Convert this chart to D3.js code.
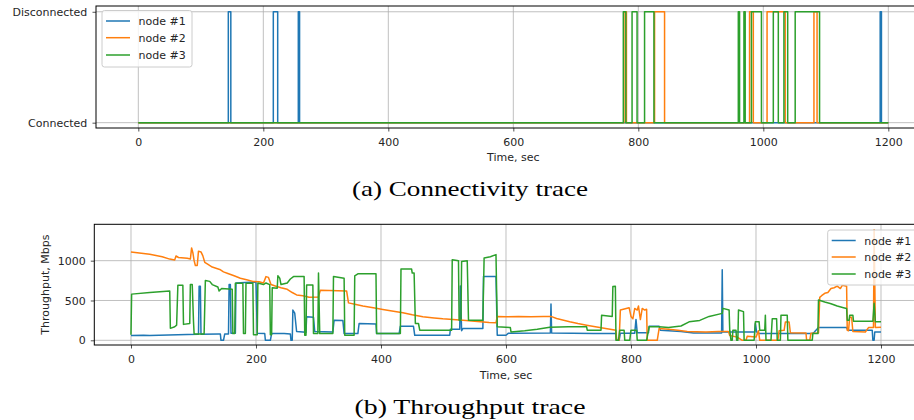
<!DOCTYPE html>
<html>
<head>
<meta charset="utf-8">
<script src="https://cdn.jsdelivr.net/npm/d3@7"></script>
<style>
  html, body { margin: 0; padding: 0; background: #fff; }
  svg { display: block; }
  .tick text { font-family: "DejaVu Sans", sans-serif; font-size: 11px; fill: #262626; }
  .tick line { stroke: #262626; stroke-width: 0.8; }
</style>
</head>
<body>
<svg id="chart" width="914" height="420"></svg>
<script>
// ---------------- data ----------------
const nodeNames = ["node #1", "node #2", "node #3"];
const nodeColors = ["#1f77b4", "#ff7f0e", "#2ca02c"];
const xTicks = [0, 200, 400, 600, 800, 1000, 1200];
const connTicks = [0, 1];
const connTickLabels = ["Connected", "Disconnected"];
const tputTicks = [0, 500, 1000];
const traceEnd = 1200;

// disconnection intervals [start, end] in seconds
const node1Down = [[144, 148], [216, 223], [256, 258], [1187, 1189]];
const node2Down = [[777, 781], [826, 842], [978, 984], [1006, 1035], [1081, 1086]];
const node3Down = [[776, 780], [790, 798], [810, 825], [960, 962], [969, 971], [981, 997],
                   [1016, 1024], [1033, 1039], [1051, 1090]];

// throughput samples [time sec, Mbps]
const node1Tput = [[0,60],[20,65],[30,60],[60,68],[90,72],[108,75],[109,680],[111,680],[112,75],[140,80],[143,78],[144,0],[148,0],[150,80],[156,80],[157,700],[159,700],[160,90],[167,90],[168,720],[190,730],[200,730],[202,90],[214,85],[215,0],[223,0],[225,85],[245,85],[255,80],[256,0],[258,0],[259,380],[262,340],[265,110],[280,100],[281,295],[292,290],[294,110],[323,105],[325,253],[339,250],[341,84],[363,84],[365,211],[392,205],[393,84],[429,84],[431,177],[452,175],[454,63],[510,63],[511,139],[526,139],[527,683],[529,120],[531,148],[563,148],[564,801],[584,801],[586,63],[600,63],[604,90],[671,92],[672,456],[673,92],[740,85],[776,85],[777,0],[781,0],[783,90],[806,90],[808,262],[810,95],[828,95],[829,177],[845,177],[847,127],[880,110],[900,92],[945,92],[946,886],[947,105],[998,105],[999,211],[1001,105],[1005,84],[1090,84],[1093,100],[1100,160],[1145,160],[1147,127],[1186,127],[1187,0],[1189,0],[1190,105],[1200,105]];
const node2Tput = [[0,1110],[10,1100],[30,1080],[50,1050],[62,1020],[70,1010],[72,1060],[76,1040],[90,1030],[95,1020],[97,1160],[99,1100],[101,1000],[103,940],[106,940],[108,1120],[112,1110],[115,1060],[118,980],[122,960],[130,920],[142,890],[148,860],[155,840],[165,810],[175,780],[185,760],[195,740],[205,735],[212,720],[216,800],[220,790],[224,700],[232,680],[240,660],[250,640],[258,600],[265,570],[275,560],[285,540],[300,545],[303,630],[345,620],[348,470],[360,450],[371,430],[390,405],[403,388],[420,365],[435,346],[450,320],[467,295],[485,280],[499,270],[515,262],[531,253],[550,240],[573,224],[584,219],[586,300],[600,295],[620,300],[640,295],[660,300],[672,300],[681,274],[702,232],[715,210],[729,190],[750,160],[776,127],[777,0],[781,0],[783,380],[797,410],[800,300],[803,270],[806,400],[810,380],[812,430],[815,260],[818,400],[822,380],[825,390],[826,0],[842,0],[845,148],[860,140],[875,125],[890,110],[920,105],[940,110],[956,110],[958,60],[970,40],[978,0],[984,0],[986,50],[1000,40],[1004,120],[1006,0],[1035,0],[1037,120],[1045,125],[1047,230],[1053,230],[1055,95],[1080,92],[1081,0],[1086,0],[1088,90],[1100,92],[1102,540],[1105,560],[1110,590],[1115,600],[1120,650],[1125,660],[1130,680],[1135,650],[1138,690],[1145,680],[1146,125],[1148,120],[1150,290],[1153,290],[1155,110],[1175,105],[1180,160],[1188,160],[1189,1390],[1191,160],[1200,165]];
const node3Tput = [[0,70],[1,580],[30,600],[62,620],[63,150],[70,170],[73,190],[75,690],[83,690],[84,200],[94,210],[95,700],[98,700],[100,240],[101,80],[117,80],[119,750],[126,740],[130,700],[139,670],[141,620],[145,650],[162,640],[163,84],[166,84],[167,717],[179,717],[180,84],[183,84],[184,717],[195,717],[196,70],[202,70],[203,720],[212,700],[216,720],[222,700],[223,70],[225,70],[226,660],[234,655],[235,810],[238,780],[240,700],[250,720],[255,770],[260,800],[277,800],[278,63],[280,63],[281,696],[291,696],[292,84],[299,84],[300,844],[302,84],[323,84],[324,801],[341,780],[342,63],[357,63],[358,810],[363,835],[392,835],[393,84],[431,84],[432,895],[449,895],[450,844],[453,844],[455,211],[460,211],[462,127],[513,127],[514,1013],[524,1000],[525,253],[528,253],[529,990],[538,1000],[540,253],[563,253],[565,1034],[575,1050],[584,1076],[586,169],[607,160],[608,105],[630,120],[650,140],[670,165],[700,170],[729,170],[730,127],[752,127],[753,316],[770,300],[771,675],[775,680],[776,0],[780,0],[782,127],[789,127],[790,0],[798,0],[800,127],[809,127],[810,0],[825,0],[829,169],[845,169],[860,160],[880,180],[893,232],[910,250],[925,300],[946,338],[947,401],[957,380],[958,127],[960,0],[962,0],[963,127],[968,127],[969,0],[971,0],[972,380],[980,360],[981,0],[997,0],[999,232],[1005,232],[1006,127],[1014,127],[1015,316],[1016,0],[1024,0],[1026,270],[1033,270],[1034,0],[1039,0],[1040,316],[1050,316],[1051,0],[1090,0],[1091,84],[1099,84],[1100,506],[1110,480],[1120,460],[1130,430],[1140,410],[1145,400],[1146,253],[1149,253],[1150,316],[1155,316],[1156,240],[1187,240],[1189,464],[1191,232],[1200,232]];

// ---------------- drawing ----------------
const svg = d3.select("#chart");
const FONT = "'DejaVu Sans', sans-serif";
const SERIF = "'Liberation Serif', 'DejaVu Serif', serif";

function frame(g, x0, y0, w, h) {
  g.append("rect").attr("x", x0).attr("y", y0).attr("width", w).attr("height", h)
    .attr("fill", "none").attr("stroke", "#000").attr("stroke-width", 1);
}

function grid(g, x, y, xt, yt) {
  const [yb, yt0] = y.range();
  const [xl, xr] = x.range();
  g.selectAll(null).data(xt).enter().append("line")
    .attr("x1", d => x(d)).attr("x2", d => x(d)).attr("y1", yb).attr("y2", yt0)
    .attr("stroke", "#b0b0b0").attr("stroke-width", 0.8);
  g.selectAll(null).data(yt).enter().append("line")
    .attr("y1", d => y(d)).attr("y2", d => y(d)).attr("x1", xl).attr("x2", xr)
    .attr("stroke", "#b0b0b0").attr("stroke-width", 0.8);
}

function legend(g, lx, ly, w, h, rows) {
  g.append("rect").attr("x", lx).attr("y", ly).attr("width", w).attr("height", h)
    .attr("rx", 2.5).attr("fill", "#fff").attr("fill-opacity", 0.8)
    .attr("stroke", "#cccccc").attr("stroke-width", 1);
  nodeNames.forEach((n, i) => {
    const cy = ly + rows[i];
    g.append("line").attr("x1", lx + 4).attr("x2", lx + 28).attr("y1", cy).attr("y2", cy)
      .attr("stroke", nodeColors[i]).attr("stroke-width", 1.5);
    g.append("text").attr("x", lx + 36.5).attr("y", cy + 4)
      .attr("font-family", FONT).attr("font-size", 11).attr("fill", "#262626").text(n);
  });
}

// ---- (a) connectivity ----
const topL = 96, topT = 6, topB = 128;
const xA = d3.scaleLinear().domain([-67.7, 1267.7]).range([topL, topL + 1335.4 * 0.625]);
const yA = d3.scaleLinear().domain([-0.048, 1.052]).range([topB, topT]);

const gA = svg.append("g");
grid(gA, xA, yA, xTicks, connTicks);

svg.append("defs").append("clipPath").attr("id", "clipA")
  .append("rect").attr("x", topL).attr("y", topT - 2).attr("width", 900).attr("height", topB - topT + 4);

function stepSeries(down) {
  const pts = [[0, 0]];
  down.forEach(([a, b]) => { pts.push([a, 1]); pts.push([b, 0]); });
  pts.push([traceEnd, 0]);
  return pts;
}
const lineA = d3.line().x(d => xA(d[0])).y(d => yA(d[1])).curve(d3.curveStepAfter);
[node1Down, node2Down, node3Down].forEach((down, i) => {
  gA.append("path").datum(stepSeries(down)).attr("d", lineA)
    .attr("fill", "none").attr("stroke", nodeColors[i]).attr("stroke-width", 1.5)
    .attr("stroke-linejoin", "round").attr("clip-path", "url(#clipA)");
});

gA.append("g").attr("transform", `translate(0,${topB})`)
  .call(d3.axisBottom(xA).tickValues(xTicks).tickSize(3.5).tickPadding(6.5).tickFormat(d3.format("d")))
  .call(g => g.select(".domain").remove());
gA.append("g").attr("transform", `translate(${topL},0)`)
  .call(d3.axisLeft(yA).tickValues(connTicks).tickSize(3.5).tickPadding(5.2).tickFormat((d, i) => connTickLabels[i]))
  .call(g => g.select(".domain").remove());
frame(gA, topL, topT, 900, topB - topT);
legend(gA, 102, 10.5, 90, 56.5, [10.5, 27.2, 44.5]);

gA.append("text").attr("x", xA(600)).attr("y", 161).attr("text-anchor", "middle")
  .attr("font-family", FONT).attr("font-size", 11).attr("fill", "#262626").text("Time, sec");
gA.append("text").attr("x", 470).attr("y", 196).attr("text-anchor", "middle")
  .attr("font-family", SERIF).attr("font-size", 21)
  .attr("textLength", 236).attr("lengthAdjust", "spacingAndGlyphs")
  .attr("fill", "#000").text("(a) Connectivity trace");

// ---- (b) throughput ----
const botL = 94.3, botT = 224.3, botB = 345;
const xB = d3.scaleLinear().domain([-58.7, 1258.7]).range([botL, botL + 1317.4 * 0.625]);
const yB = d3.scaleLinear().domain([-59, 1457]).range([botB, botT]);

const gB = svg.append("g");
grid(gB, xB, yB, xTicks, tputTicks);

svg.select("defs").append("clipPath").attr("id", "clipB")
  .append("rect").attr("x", botL).attr("y", botT).attr("width", 900).attr("height", botB - botT);

const lineB = d3.line().x(d => xB(d[0])).y(d => yB(d[1]));
[node1Tput, node2Tput, node3Tput].forEach((s, i) => {
  gB.append("path").datum(s).attr("d", lineB)
    .attr("fill", "none").attr("stroke", nodeColors[i]).attr("stroke-width", 1.5)
    .attr("stroke-linejoin", "round").attr("clip-path", "url(#clipB)");
});

gB.append("g").attr("transform", `translate(0,${botB})`)
  .call(d3.axisBottom(xB).tickValues(xTicks).tickSize(3.5).tickPadding(6.5).tickFormat(d3.format("d")))
  .call(g => g.select(".domain").remove());
gB.append("g").attr("transform", `translate(${botL},0)`)
  .call(d3.axisLeft(yB).tickValues(tputTicks).tickSize(3.5).tickPadding(5).tickFormat(d3.format("d")))
  .call(g => g.select(".domain").remove());
frame(gB, botL, botT, 900, botB - botT);
legend(gB, 827.7, 230, 100, 55, [10.5, 27, 44]);

gB.append("text").attr("x", xB(600)).attr("y", 379).attr("text-anchor", "middle")
  .attr("font-family", FONT).attr("font-size", 11).attr("fill", "#262626").text("Time, sec");
gB.append("text").attr("transform", `translate(49,${(botT + botB) / 2}) rotate(-90)`)
  .attr("text-anchor", "middle")
  .attr("font-family", FONT).attr("font-size", 11).attr("fill", "#262626").text("Throughput, Mbps");
gB.append("text").attr("x", 470).attr("y", 414).attr("text-anchor", "middle")
  .attr("font-family", SERIF).attr("font-size", 21)
  .attr("textLength", 231).attr("lengthAdjust", "spacingAndGlyphs")
  .attr("fill", "#000").text("(b) Throughput trace");
</script>
</body>
</html>
